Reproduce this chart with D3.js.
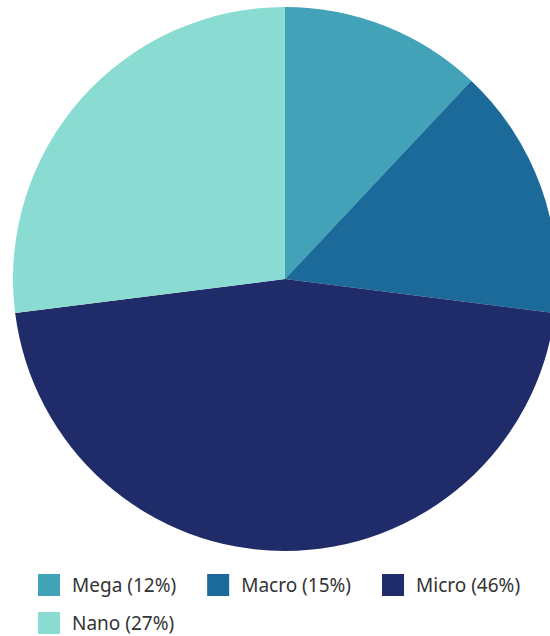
<!DOCTYPE html>
<html>
<head>
<meta charset="utf-8">
<script src="https://cdn.jsdelivr.net/npm/d3@7"></script>
<style>
  html, body { margin: 0; padding: 0; background: #fff; }
  svg { display: block; }
</style>
</head>
<body>
<svg id="chart" width="550" height="636"></svg>
<script>
const categories = ["Mega", "Macro", "Micro", "Nano"];
const shares = [12, 15, 46, 27];
const colors = ["#41a2b8", "#1b6a9a", "#1f2c69", "#8adbd2"];

const svg = d3.select("#chart");
const cx = 285, cy = 279, radius = 272;

const data = categories.map((c, i) => ({ name: c, value: shares[i], color: colors[i] }));

const pie = d3.pie().value(d => d.value).sort(null);
const arc = d3.arc().innerRadius(0).outerRadius(radius);

svg.append("g")
  .attr("transform", `translate(${cx},${cy})`)
  .selectAll("path")
  .data(pie(data))
  .join("path")
  .attr("d", arc)
  .attr("fill", d => d.data.color);

// Legend: flowing rows of swatch + label
const legend = svg.append("g").attr("font-family", "'Noto Sans', sans-serif")
  .attr("font-size", 19).attr("fill", "#333");
const sw = 22, gapText = 12, gapItem = 31, x0 = 38, y0 = 574, rowH = 38, maxX = 545;
let x = x0, y = y0;
data.forEach(d => {
  const g = legend.append("g");
  g.append("rect").attr("width", sw).attr("height", sw).attr("fill", d.color);
  const t = g.append("text").attr("x", sw + gapText).attr("y", sw / 2).attr("dy", "0.35em")
    .text(`${d.name} (${d.value}%)`);
  const w = sw + gapText + t.node().getComputedTextLength();
  if (x + w > maxX) { x = x0; y += rowH; }
  g.attr("transform", `translate(${x},${y})`);
  x += w + gapItem;
});
</script>
</body>
</html>
